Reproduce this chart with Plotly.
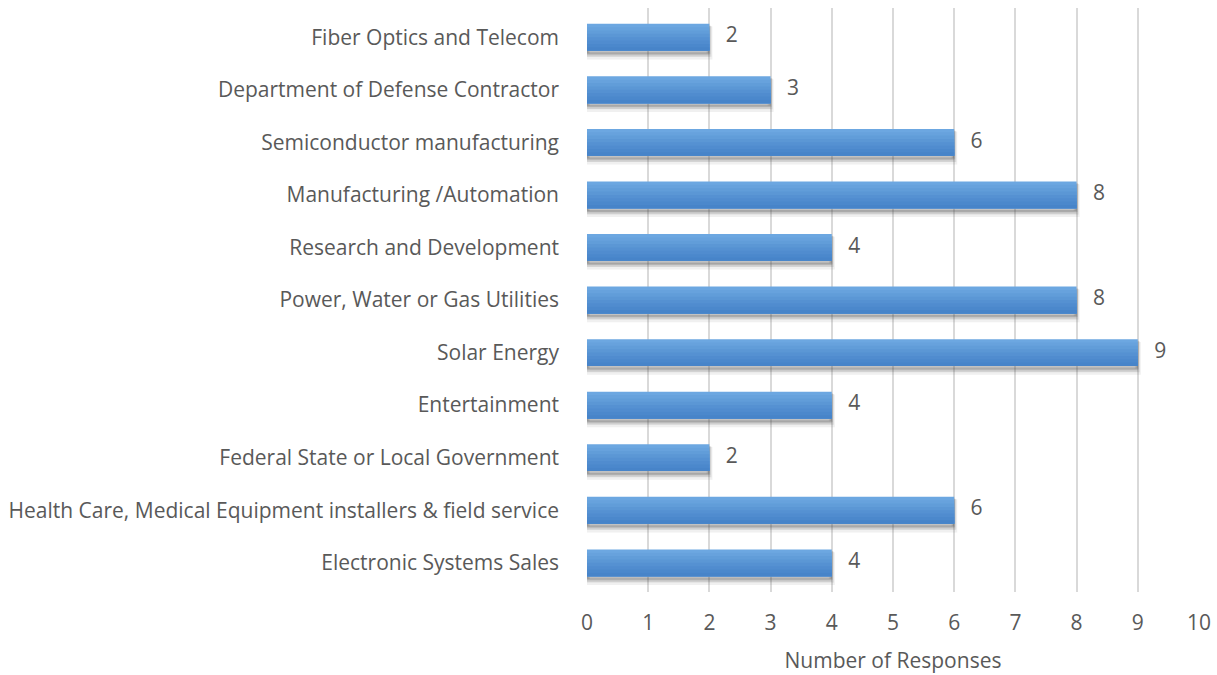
import plotly.graph_objects as go

categories = [
    "Fiber Optics and Telecom",
    "Department of Defense Contractor",
    "Semiconductor manufacturing",
    "Manufacturing /Automation",
    "Research and Development",
    "Power, Water or Gas Utilities",
    "Solar Energy",
    "Entertainment",
    "Federal State or Local Government",
    "Health Care, Medical Equipment installers & field service",
    "Electronic Systems Sales",
]
responses = [2, 3, 6, 8, 4, 8, 9, 4, 2, 6, 4]
x_ticks = list(range(0, 11))
x_title = "Number of Responses"

FONT = "'Open Sans', Lato, sans-serif"
TEXT_COLOR = "#595959"
FS = 21

fig = go.Figure()

bar_w = 0.51
# soft shadow (below / right)
for dy, alpha, lw in [(0.11, 0.08, 6), (0.08, 0.12, 4), (0.05, 0.16, 2)]:
    fig.add_trace(go.Bar(
        x=responses, y=categories, orientation="h",
        width=bar_w, offset=-bar_w / 2 + dy,
        marker=dict(color=f"rgba(70,70,70,{alpha})",
                    line=dict(color=f"rgba(70,70,70,{alpha})", width=lw)),
        hoverinfo="skip", showlegend=False,
    ))

# gradient bar made of overlapping layers (light top -> darker bottom)
grad = ["#6ca7e1", "#67a2dd", "#619dd9", "#5b97d5", "#5591d2", "#508ccf", "#4b88cc", "#4784c9"]
n = len(grad)
sw = bar_w / n
for i, c in enumerate(grad):
    fig.add_trace(go.Bar(
        x=responses, y=categories, orientation="h",
        width=bar_w - i * sw, offset=-bar_w / 2 + i * sw,
        marker=dict(color=c, line=dict(width=0)),
        hoverinfo="skip", showlegend=False,
    ))

fig.add_trace(go.Scatter(
    x=responses, y=categories, mode="text",
    text=[f"   {v}" for v in responses],
    textposition="middle right",
    textfont=dict(family=FONT, size=FS, color=TEXT_COLOR),
    hoverinfo="skip", showlegend=False,
))

fig.update_layout(
    width=1217, height=675,
    barmode="overlay",
    plot_bgcolor="white", paper_bgcolor="white",
    margin=dict(l=587, r=18, t=8, b=83),
    font=dict(family=FONT, color=TEXT_COLOR, size=FS),
    xaxis=dict(
        range=[0, 10], tickvals=x_ticks, ticktext=[str(t) for t in x_ticks],
        showgrid=True, gridcolor="#d9d9d9", gridwidth=1.5,
        zeroline=False, showline=False, ticks="",
        ticklabelstandoff=16,
        tickfont=dict(family=FONT, size=FS, color=TEXT_COLOR),
        title=dict(text=x_title, font=dict(family=FONT, size=FS, color=TEXT_COLOR), standoff=18),
        fixedrange=True, automargin=False,
    ),
    yaxis=dict(
        categoryorder="array", categoryarray=categories,
        autorange="reversed",
        showgrid=False, zeroline=False, showline=False, ticks="",
        ticklabelstandoff=27,
        tickfont=dict(family=FONT, size=FS, color=TEXT_COLOR),
        fixedrange=True, automargin=False,
    ),
)

fig.write_html("out.html", config={"displayModeBar": False},
               post_script="document.body.style.margin='0';")
